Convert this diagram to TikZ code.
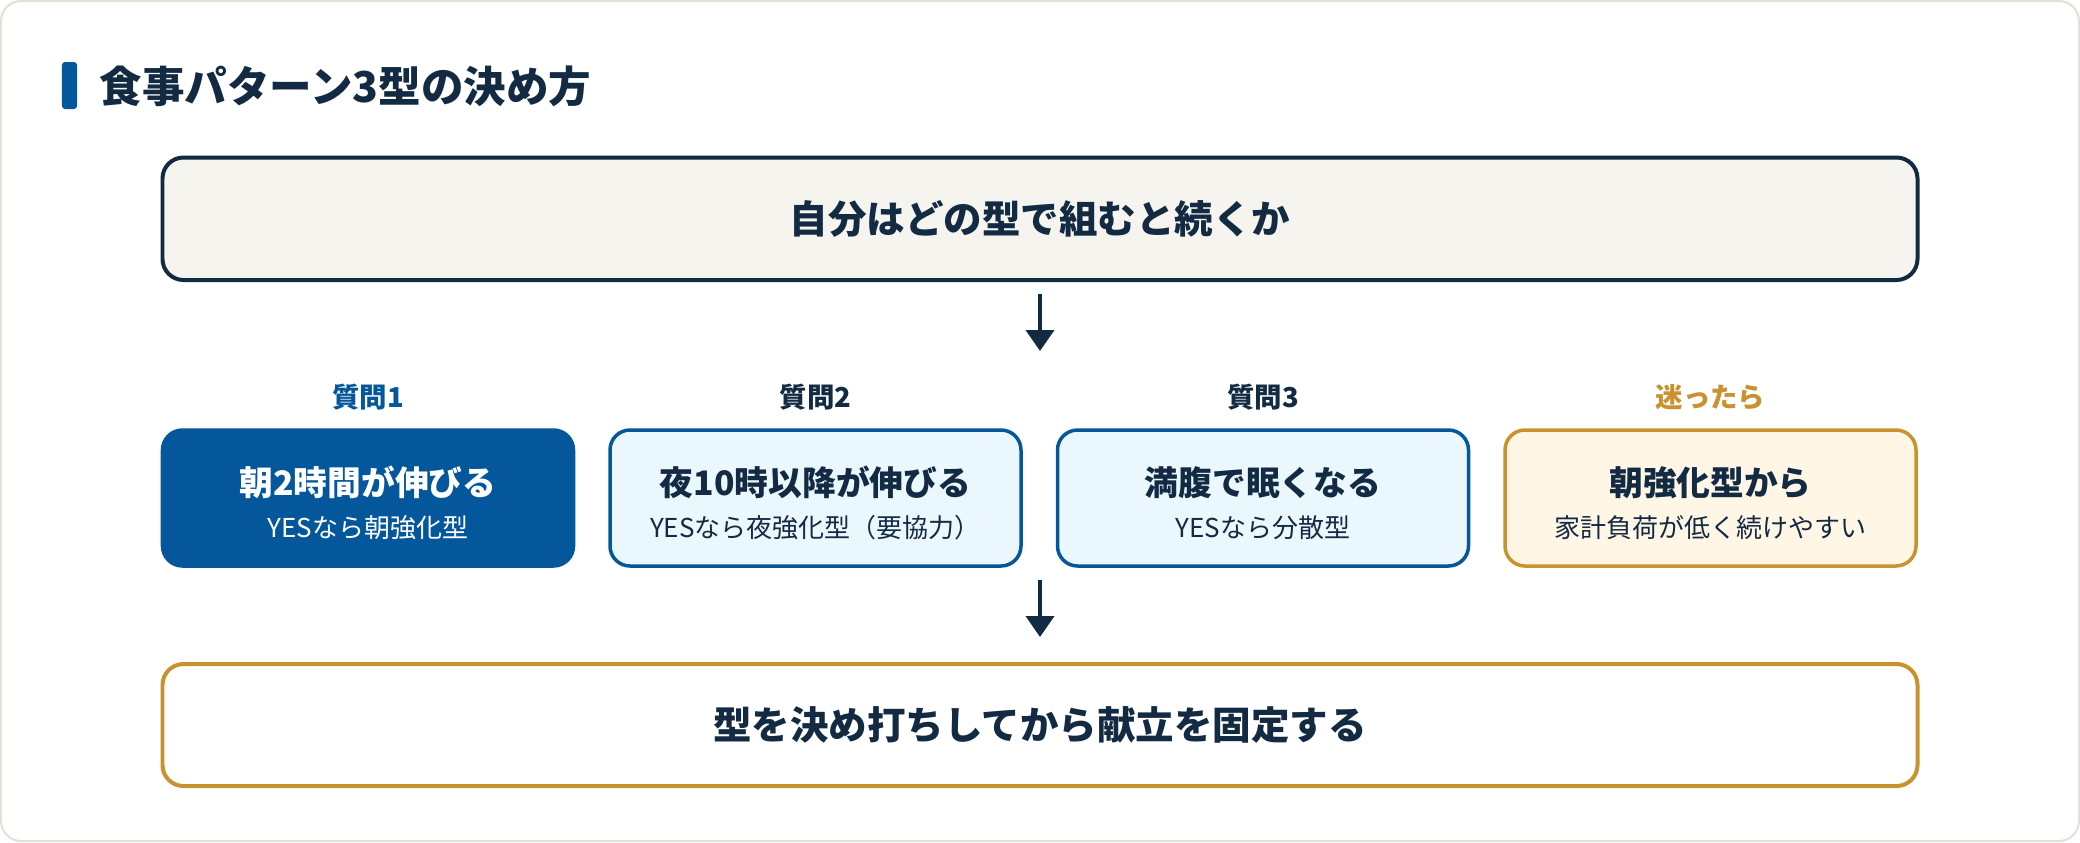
\documentclass[tikz,border=0pt]{standalone}
\usepackage{fontspec}
\setmainfont{Noto Sans CJK JP}
\usepackage{xcolor}
\usetikzlibrary{positioning, arrows.meta}

\definecolor{navy}{HTML}{132A43}
\definecolor{mainblue}{HTML}{05579B}
\definecolor{skyfill}{HTML}{EAF7FD}
\definecolor{gold}{HTML}{C8922F}
\definecolor{creamfill}{HTML}{FFF6E6}
\definecolor{paperfill}{HTML}{F5F4EF}
\definecolor{framegray}{HTML}{E3E0D5}

\newcommand{\boxtext}[2]{{\fontsize{9.6}{11}\selectfont\bfseries\rule{0pt}{11pt}#1}\\{#2}}

\begin{document}
\begin{tikzpicture}[
    bigbox/.style={rectangle, draw, rounded corners=0.21cm, line width=0.04cm, minimum width=17.55cm, minimum height=1.225cm, align=center, text=navy, font=\fontsize{10.95}{13}\selectfont\bfseries},
    qbox/.style={rectangle, draw=mainblue, fill=skyfill, rounded corners=0.2cm, line width=0.035cm, minimum width=4.11cm, minimum height=1.36cm, inner sep=0pt, align=center, text=navy, font=\fontsize{7.4}{12}\selectfont},
    lab/.style={font=\fontsize{7.8}{9}\selectfont\bfseries, text=navy},
    arrow/.style={-{Triangle[width=0.28cm, length=0.21cm]}, line width=0.04cm, draw=navy}
]

% Frame
\useasboundingbox (0,0) rectangle (20.8,-8.42);
\draw[framegray, fill=white, line width=0.02cm, rounded corners=0.2cm] (0.01,-0.01) rectangle (20.79,-8.41);

% Title
\fill[mainblue, rounded corners=0.03cm] (0.62,-0.62) rectangle (0.77,-1.09);
\node[anchor=west, inner sep=0pt, text=navy, font=\fontsize{12.1}{14}\selectfont\bfseries] (title) at (0.99,-0.86) {食事パターン3型の決め方};

% Question
\node[bigbox, fill=paperfill, draw=navy] (ask) at (10.40,-2.1875) {自分はどの型で組むと続くか};
\coordinate (row) at (10.40,-3.51);

% Four choices
\node[qbox, fill=mainblue, text=white] (q1) at (3.68,-4.98) {\boxtext{朝2時間が伸びる}{YESなら朝強化型}};
\node[qbox, right=0.33cm of q1] (q2) {\boxtext{夜10時以降が伸びる}{YESなら夜強化型（要協力）}};
\node[qbox, right=0.33cm of q2] (q3) {\boxtext{満腹で眠くなる}{YESなら分散型}};
\node[qbox, draw=gold, fill=creamfill, right=0.33cm of q3] (q4) {\boxtext{朝強化型から}{家計負荷が低く続けやすい}};

% Labels
\node[lab, text=mainblue] (lab1) at ([yshift=0.31cm]q1.north) {質問1};
\node[lab] (lab2) at ([yshift=0.31cm]q2.north) {質問2};
\node[lab] (lab3) at ([yshift=0.31cm]q3.north) {質問3};
\node[lab, text=gold] (lab4) at ([yshift=0.31cm]q4.north) {迷ったら};

% Result
\coordinate (split) at (10.40,-5.80);
\node[bigbox, fill=white, draw=gold, minimum height=1.22cm] (goal) at (10.40,-7.25) {型を決め打ちしてから献立を固定する};

% Arrows
\draw[arrow, shorten <=0.12cm] (ask) -- (row);
\draw[arrow, shorten >=0.25cm] (split) -- (goal);

\end{tikzpicture}
\end{document}
